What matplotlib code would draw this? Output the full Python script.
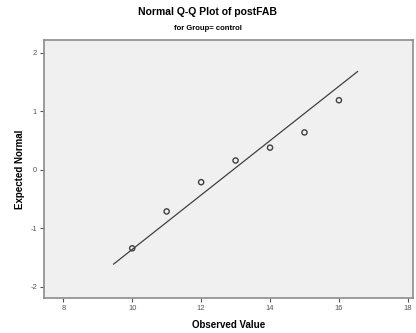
import matplotlib
matplotlib.use('Agg')
import matplotlib.pyplot as plt

observed = [10, 11, 12, 13, 14, 15, 16]
expected = [-1.34, -0.71, -0.21, 0.16, 0.38, 0.64, 1.19]

# reference line endpoints
line_x = [9.46, 16.54]
line_y = [-1.61, 1.68]

xticks = [8, 10, 12, 14, 16, 18]
yticks = [-2, -1, 0, 1, 2]

plt.rcParams['font.family'] = ['Liberation Sans', 'DejaVu Sans']
plt.rcParams['axes.unicode_minus'] = False

fig = plt.figure(figsize=(4.16, 3.33), dpi=100)
fig.patch.set_facecolor('white')
ax = fig.add_axes([0.1058, 0.105, 0.887, 0.775])
ax.set_facecolor('#f0f0f0')

ax.plot(line_x, line_y, color='#404040', linewidth=0.9)
ax.scatter(observed, expected, s=14, facecolors='none', edgecolors='#404040', linewidths=1.0, zorder=3)

ax.set_xlim(7.44, 18.15)
ax.set_ylim(-2.19, 2.22)
ax.set_xticks(xticks)
ax.set_yticks(yticks)
ax.tick_params(axis='both', labelsize=5.5, labelcolor='#555555', color='#555555',
               length=3, width=0.8, direction='out', pad=2)

for sp in ax.spines.values():
    sp.set_color('#8c8c8c')
    sp.set_linewidth(1.2)

ax.set_xlabel('Observed Value', fontsize=7, fontweight='bold', labelpad=6)
ax.set_ylabel('Expected Normal', fontsize=7, fontweight='bold', labelpad=4)

fig.text(0.5, 0.963, 'Normal Q-Q Plot of postFAB', ha='center', va='center',
         fontsize=7.5, fontweight='bold')
fig.text(0.5, 0.915, 'for Group= control', ha='center', va='center',
         fontsize=5.5, fontweight='bold')

fig.savefig('out.png', dpi=100)
